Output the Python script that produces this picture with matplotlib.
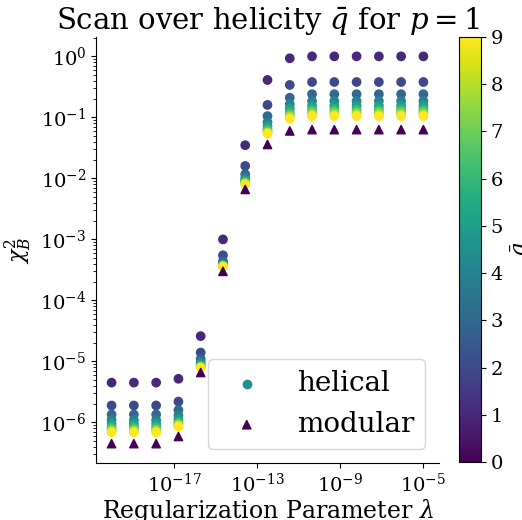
from matplotlib import pyplot
import numpy

pyplot.rcParams['font.family'] = 'serif'
pyplot.rcParams['font.serif'] = ['DejaVu Serif']
pyplot.rcParams['mathtext.fontset'] = 'dejavuserif'

# regularization parameter values (x)
lambdas = [1.0e-20, 1.18e-19, 1.39e-18, 1.64e-17, 1.93e-16, 2.28e-15, 2.68e-14, 3.16e-13,
           3.73e-12, 4.39e-11, 5.18e-10, 6.11e-09, 7.20e-08, 8.48e-07, 1.0e-05]

# helicity values for the helical runs
q_values = [1, 2, 3, 4, 5, 6, 7, 8, 9]

# chi^2_B for helical runs, one row per q
chi_helical = [
    [4.5e-6, 4.5e-6, 4.5e-6, 5.2e-6, 2.6e-5, 1.0e-3, 0.035, 0.41, 0.93, 1.0, 1.0, 1.0, 1.0, 1.0, 1.0],
    [1.9e-6, 1.9e-6, 1.9e-6, 2.2e-6, 1.4e-5, 5.5e-4, 0.016, 0.16, 0.34, 0.38, 0.38, 0.38, 0.38, 0.38, 0.38],
    [1.35e-6, 1.35e-6, 1.35e-6, 1.6e-6, 1.1e-5, 4.4e-4, 0.0117, 0.105, 0.21, 0.24, 0.24, 0.24, 0.24, 0.24, 0.24],
    [1.1e-6, 1.1e-6, 1.1e-6, 1.3e-6, 9.8e-6, 4.0e-4, 0.0101, 0.083, 0.165, 0.185, 0.185, 0.185, 0.185, 0.185, 0.185],
    [9.5e-7, 9.5e-7, 9.5e-7, 1.12e-6, 9.0e-6, 3.85e-4, 0.0093, 0.072, 0.14, 0.155, 0.155, 0.155, 0.155, 0.155, 0.155],
    [8.4e-7, 8.4e-7, 8.4e-7, 1.0e-6, 8.5e-6, 3.75e-4, 0.0088, 0.064, 0.122, 0.135, 0.135, 0.135, 0.135, 0.135, 0.135],
    [7.7e-7, 7.7e-7, 7.7e-7, 9.4e-7, 8.2e-6, 3.68e-4, 0.0084, 0.059, 0.11, 0.122, 0.122, 0.122, 0.122, 0.122, 0.122],
    [7.2e-7, 7.2e-7, 7.2e-7, 9.0e-7, 8.0e-6, 3.63e-4, 0.0082, 0.056, 0.102, 0.112, 0.112, 0.112, 0.112, 0.112, 0.112],
    [6.9e-7, 6.9e-7, 6.9e-7, 8.6e-7, 7.9e-6, 3.6e-4, 0.0080, 0.054, 0.095, 0.105, 0.105, 0.105, 0.105, 0.105, 0.105],
]

# chi^2_B for modular runs (q = 0)
chi_modular = [4.5e-7, 4.5e-7, 4.5e-7, 5.9e-7, 6.6e-6, 3.0e-4, 0.0066, 0.036, 0.06,
               0.063, 0.063, 0.063, 0.063, 0.063, 0.063]

x_hel = numpy.tile(lambdas, len(q_values))
y_hel = numpy.array(chi_helical).ravel()
c_hel = numpy.repeat(q_values, len(lambdas))

fig = pyplot.figure(figsize=(5.22, 5.20), dpi=100)
ax = fig.add_axes([96 / 522, 1 - 463 / 520, 343 / 522, 426 / 520])
cax = fig.add_axes([459 / 522, 1 - 462 / 520, 22 / 522, 425 / 520])

sc = ax.scatter(x_hel, y_hel, c=c_hel, cmap='viridis', vmin=0, vmax=9, label='helical')
ax.scatter(lambdas, chi_modular, c=numpy.zeros(len(lambdas)), cmap='viridis', vmin=0, vmax=9,
           marker='^', label='modular')

ax.set_xscale('log')
ax.set_yscale('log')
ax.spines['top'].set_visible(False)
ax.spines['right'].set_visible(False)
ax.tick_params(labelsize=14)
ax.set_xlabel(r'Regularization Parameter $\lambda$', fontsize=17, labelpad=1)
ax.set_ylabel(r'$\chi^2_B$', fontsize=16)
ax.set_title(r'Scan over helicity $\bar{q}$ for $p=1$', fontsize=21)
leg = ax.legend(loc='lower right', fontsize=20)
# legend dot for the helical runs is drawn in the middle colour of the map
hel_handle = leg.legend_handles[0]
hel_handle.set_array(None)
hel_handle.set_facecolor(pyplot.get_cmap('viridis')(0.5))
hel_handle.set_edgecolor(pyplot.get_cmap('viridis')(0.5))

cb = fig.colorbar(sc, cax=cax)
cb.set_ticks(range(10))
cb.ax.tick_params(labelsize=14)
cb.set_label(r'$\bar{q}$', fontsize=16)

pyplot.savefig('out.png')
